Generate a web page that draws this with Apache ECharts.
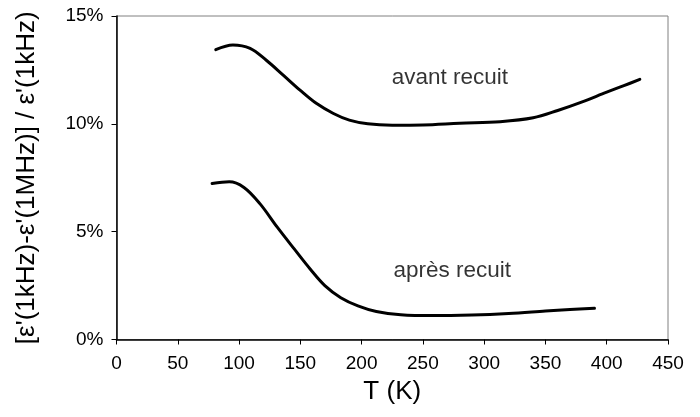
<!DOCTYPE html>
<html>
<head>
<meta charset="utf-8">
<script src="https://cdn.jsdelivr.net/npm/echarts@6/dist/echarts.min.js"></script>
<style>
  html, body { margin: 0; padding: 0; background: #fff; }
  #chart { width: 700px; height: 417px; }
</style>
</head>
<body>
<div id="chart"></div>
<script>
// Relative dispersion between 1 kHz and 1 MHz, before and after annealing
const avantT = [81, 95, 109, 122, 136, 150, 163, 177, 190, 205, 225, 250, 280, 313, 340, 360, 380, 400, 414, 427];
const avantVal = [13.44, 13.66, 13.5, 12.96, 12.26, 11.55, 10.95, 10.48, 10.17, 10.0, 9.94, 9.95, 10.03, 10.1, 10.28, 10.62, 11.02, 11.47, 11.77, 12.06];

const apresT = [78, 92, 104, 117, 131, 145, 158, 170, 183, 197, 212, 232, 258, 290, 320, 350, 370, 390];
const apresVal = [7.23, 7.31, 7.05, 6.3, 5.22, 4.2, 3.27, 2.5, 1.94, 1.56, 1.3, 1.15, 1.11, 1.14, 1.21, 1.32, 1.39, 1.45];

// Curve captions, placed in data coordinates
const captionText = ['avant recuit', 'après recuit'];
const captionT = [272, 274];
const captionVal = [12.15, 3.2];

const xTicks = { min: 0, max: 450, interval: 50 };
const yTicks = { min: 0, max: 15, interval: 5 };

const FONT = '"Liberation Sans", Arial, sans-serif';

const zip = (xs, ys) => xs.map((x, i) => [x, ys[i]]);

const chart = echarts.init(document.getElementById('chart'), null, { renderer: 'canvas' });

const curveStyle = { color: '#000', width: 3, cap: 'round', join: 'round' };

chart.setOption({
  animation: false,
  backgroundColor: '#fff',
  grid: {
    left: 116.5, right: 32, top: 16, bottom: 77.5,
    show: true, borderColor: '#808080', borderWidth: 1, backgroundColor: 'transparent'
  },
  xAxis: {
    type: 'value',
    min: xTicks.min, max: xTicks.max, interval: xTicks.interval,
    name: 'T (K)',
    nameLocation: 'middle',
    nameGap: 39,
    nameTextStyle: { fontFamily: FONT, fontSize: 26, color: '#000' },
    axisLine: { show: true, onZero: false, lineStyle: { color: '#000', width: 1.5 } },
    axisTick: { show: true, inside: false, length: 5, lineStyle: { color: '#000', width: 1 } },
    axisLabel: { fontFamily: FONT, fontSize: 19, color: '#000', margin: 15 },
    splitLine: { show: false }
  },
  yAxis: {
    type: 'value',
    min: yTicks.min, max: yTicks.max, interval: yTicks.interval,
    name: "[ε'(1kHz)-ε'(1MHz)] / ε'(1kHz)",
    nameLocation: 'middle',
    nameRotate: 90,
    nameGap: 77,
    nameTextStyle: { fontFamily: FONT, fontSize: 26, color: '#000' },
    axisLine: { show: true, onZero: false, lineStyle: { color: '#000', width: 1.5 } },
    axisTick: { show: true, inside: false, length: 5, lineStyle: { color: '#000', width: 1 } },
    axisLabel: { fontFamily: FONT, fontSize: 19, color: '#000', margin: 13, formatter: '{value}%' },
    splitLine: { show: false }
  },
  series: [
    {
      name: 'avant recuit',
      type: 'line',
      data: zip(avantT, avantVal),
      smooth: 0.35,
      showSymbol: false,
      lineStyle: curveStyle
    },
    {
      name: 'après recuit',
      type: 'line',
      data: zip(apresT, apresVal),
      smooth: 0.35,
      showSymbol: false,
      lineStyle: curveStyle
    },
    {
      name: 'captions',
      type: 'scatter',
      silent: true,
      symbolSize: 0,
      data: captionText.map((t, i) => ({ name: t, value: [captionT[i], captionVal[i]] })),
      label: {
        show: true,
        position: 'inside',
        formatter: p => p.name,
        fontFamily: FONT, fontSize: 22.5, color: '#000'
      }
    }
  ]
});
</script>
</body>
</html>
